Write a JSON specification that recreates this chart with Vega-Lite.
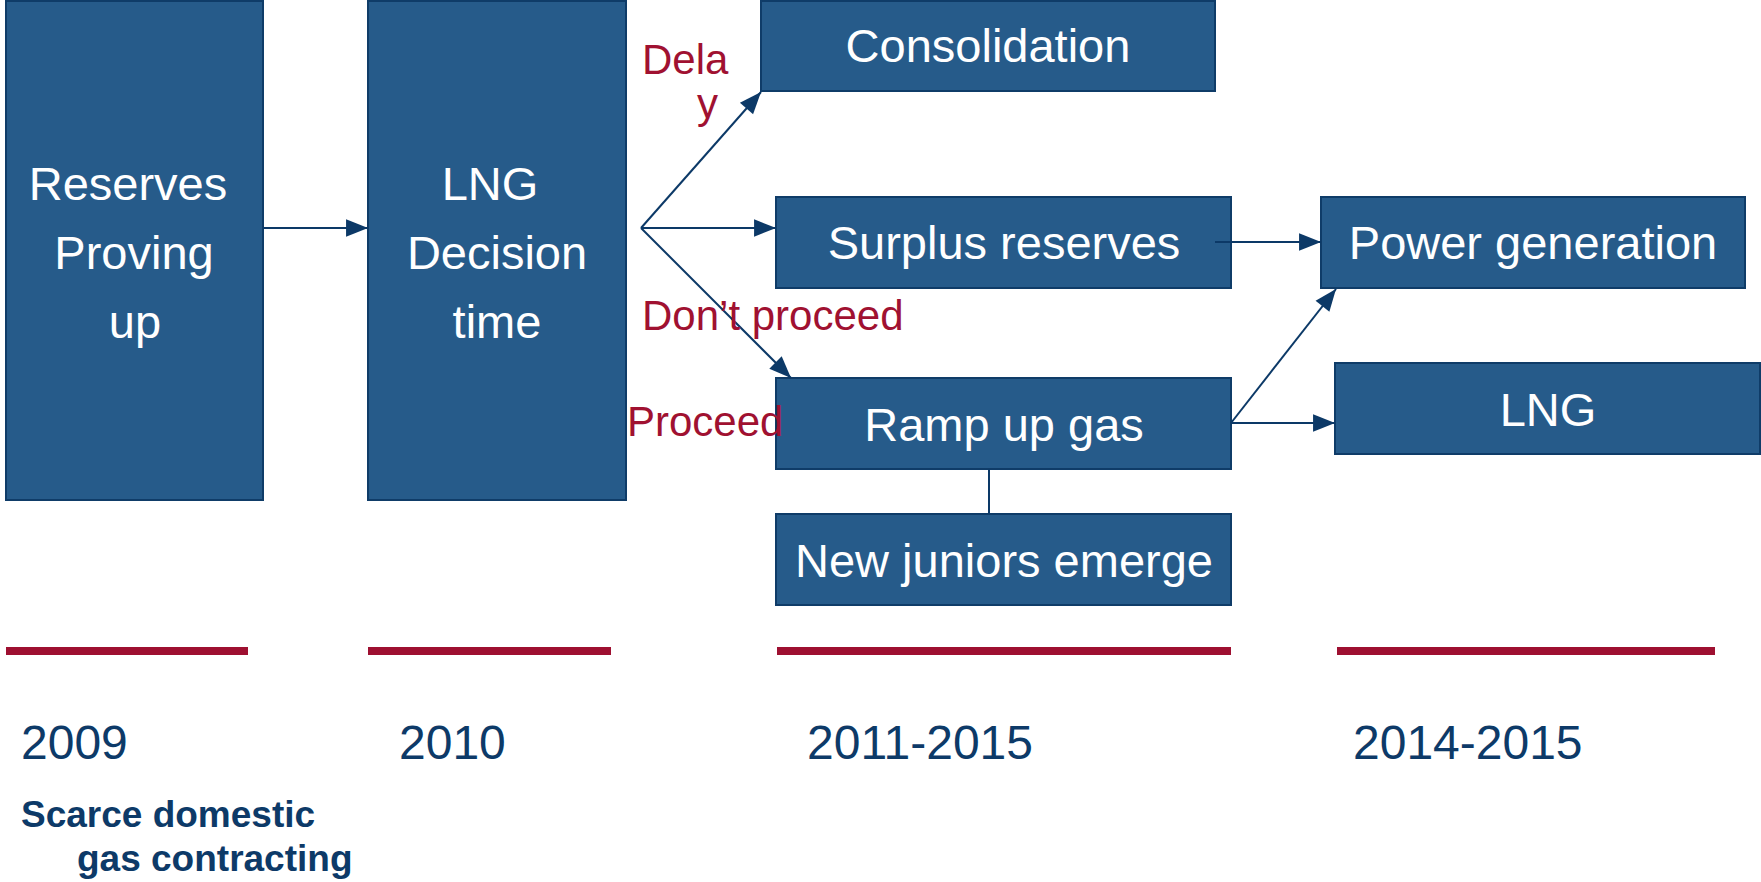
{
  "$schema": "https://vega.github.io/schema/vega-lite/v6.json",
  "width": 1761,
  "height": 882,
  "autosize": {"type": "fit", "contains": "padding"},
  "padding": 0,
  "background": "white",
  "config": {"view": {"stroke": null}},
  "datasets": {
    "boxes": [
      {"name": "Reserves Proving up", "x": 6, "x2": 263, "y": 1, "y2": 500},
      {"name": "LNG Decision time", "x": 368, "x2": 626, "y": 1, "y2": 500},
      {"name": "Consolidation", "x": 761, "x2": 1215, "y": 1, "y2": 91},
      {"name": "Surplus reserves", "x": 776, "x2": 1231, "y": 197, "y2": 288},
      {"name": "Ramp up gas", "x": 776, "x2": 1231, "y": 378, "y2": 469},
      {"name": "New juniors emerge", "x": 776, "x2": 1231, "y": 514, "y2": 605},
      {"name": "Power generation", "x": 1321, "x2": 1745, "y": 197, "y2": 288},
      {"name": "LNG", "x": 1335, "x2": 1760, "y": 363, "y2": 454}
    ],
    "links": [
      {"x": 263, "y": 228, "x2": 368, "y2": 228, "head": true},
      {"x": 641, "y": 228, "x2": 761, "y2": 92, "head": true},
      {"x": 641, "y": 228, "x2": 776, "y2": 228, "head": true},
      {"x": 641, "y": 228, "x2": 791, "y2": 378, "head": true},
      {"x": 1215, "y": 242, "x2": 1321, "y2": 242, "head": true},
      {"x": 1231, "y": 423, "x2": 1336, "y2": 289, "head": true},
      {"x": 1231, "y": 423, "x2": 1335, "y2": 423, "head": true},
      {"x": 989, "y": 469, "x2": 989, "y2": 514, "head": false}
    ],
    "bars": [
      {"period": "2009", "x": 6, "x2": 248, "y": 651},
      {"period": "2010", "x": 368, "x2": 611, "y": 651},
      {"period": "2011-2015", "x": 777, "x2": 1231, "y": 651},
      {"period": "2014-2015", "x": 1337, "x2": 1715, "y": 651}
    ],
    "labels": [
      {"kind": "box", "text": "Reserves", "x": 128, "y": 200},
      {"kind": "box", "text": "Proving", "x": 134, "y": 269},
      {"kind": "box", "text": "up", "x": 135, "y": 338},
      {"kind": "box", "text": "LNG", "x": 490, "y": 200},
      {"kind": "box", "text": "Decision", "x": 497, "y": 269},
      {"kind": "box", "text": "time", "x": 497, "y": 338},
      {"kind": "box", "text": "Consolidation", "x": 988, "y": 62},
      {"kind": "box", "text": "Surplus reserves", "x": 1004, "y": 259},
      {"kind": "box", "text": "Ramp up gas", "x": 1004, "y": 441},
      {"kind": "box", "text": "New juniors emerge", "x": 1004, "y": 577},
      {"kind": "box", "text": "Power generation", "x": 1533, "y": 259},
      {"kind": "box", "text": "LNG", "x": 1548, "y": 426},
      {"kind": "red", "text": "Dela", "x": 642, "y": 74},
      {"kind": "red", "text": "y", "x": 697, "y": 118},
      {"kind": "red", "text": "Don’t proceed", "x": 642, "y": 330},
      {"kind": "red", "text": "Proceed", "x": 627, "y": 436},
      {"kind": "year", "text": "2009", "x": 21, "y": 759},
      {"kind": "year", "text": "2010", "x": 399, "y": 759},
      {"kind": "year", "text": "2011-2015", "x": 807, "y": 759},
      {"kind": "year", "text": "2014-2015", "x": 1353, "y": 759},
      {"kind": "note", "text": "Scarce domestic", "x": 21, "y": 827},
      {"kind": "note", "text": "gas contracting", "x": 77, "y": 871}
    ]
  },
  "layer": [
    {
      "data": {"name": "boxes"},
      "mark": {"type": "rect", "fill": "#265b8a", "stroke": "#0f3c68", "strokeWidth": 2},
      "encoding": {
        "x": {"field": "x", "type": "quantitative", "scale": {"domain": [0, 1761], "nice": false, "zero": false}, "axis": null},
        "x2": {"field": "x2"},
        "y": {"field": "y", "type": "quantitative", "scale": {"domain": [0, 882], "nice": false, "zero": false, "reverse": true}, "axis": null},
        "y2": {"field": "y2"}
      }
    },
    {
      "data": {"name": "links"},
      "mark": {"type": "rule", "color": "#0c3967", "strokeWidth": 2},
      "encoding": {
        "x": {"field": "x", "type": "quantitative", "axis": null},
        "x2": {"field": "x2"},
        "y": {"field": "y", "type": "quantitative", "axis": null},
        "y2": {"field": "y2"}
      }
    },
    {
      "data": {"name": "links"},
      "transform": [
        {"filter": "datum.head"},
        {"calculate": "atan2(datum.y2 - datum.y, datum.x2 - datum.x) * 180 / PI", "as": "dir"}
      ],
      "mark": {"type": "point", "shape": "M0,0L-2,-0.8L-2,0.8Z", "filled": true, "color": "#0c3967", "opacity": 1, "size": 480},
      "encoding": {
        "x": {"field": "x2", "type": "quantitative", "axis": null},
        "y": {"field": "y2", "type": "quantitative", "axis": null},
        "angle": {"field": "dir", "type": "quantitative", "scale": null}
      }
    },
    {
      "data": {"name": "bars"},
      "mark": {"type": "rule", "color": "#9e1031", "strokeWidth": 8, "strokeCap": "butt"},
      "encoding": {
        "x": {"field": "x", "type": "quantitative", "axis": null},
        "x2": {"field": "x2"},
        "y": {"field": "y", "type": "quantitative", "axis": null}
      }
    },
    {
      "data": {"name": "labels"},
      "transform": [{"filter": "datum.kind == 'box'"}],
      "mark": {"type": "text", "font": "Liberation Sans", "fontSize": 47, "color": "white", "align": "center", "baseline": "alphabetic"},
      "encoding": {
        "x": {"field": "x", "type": "quantitative", "axis": null},
        "y": {"field": "y", "type": "quantitative", "axis": null},
        "text": {"field": "text"}
      }
    },
    {
      "data": {"name": "labels"},
      "transform": [{"filter": "datum.kind == 'red'"}],
      "mark": {"type": "text", "font": "Liberation Sans", "fontSize": 42, "color": "#a01131", "align": "left", "baseline": "alphabetic"},
      "encoding": {
        "x": {"field": "x", "type": "quantitative", "axis": null},
        "y": {"field": "y", "type": "quantitative", "axis": null},
        "text": {"field": "text"}
      }
    },
    {
      "data": {"name": "labels"},
      "transform": [{"filter": "datum.kind == 'year'"}],
      "mark": {"type": "text", "font": "Liberation Sans", "fontSize": 48, "color": "#0d3a68", "align": "left", "baseline": "alphabetic"},
      "encoding": {
        "x": {"field": "x", "type": "quantitative", "axis": null},
        "y": {"field": "y", "type": "quantitative", "axis": null},
        "text": {"field": "text"}
      }
    },
    {
      "data": {"name": "labels"},
      "transform": [{"filter": "datum.kind == 'note'"}],
      "mark": {"type": "text", "font": "Liberation Sans", "fontSize": 37, "fontWeight": "bold", "color": "#0d3a68", "align": "left", "baseline": "alphabetic"},
      "encoding": {
        "x": {"field": "x", "type": "quantitative", "axis": null},
        "y": {"field": "y", "type": "quantitative", "axis": null},
        "text": {"field": "text"}
      }
    }
  ]
}
